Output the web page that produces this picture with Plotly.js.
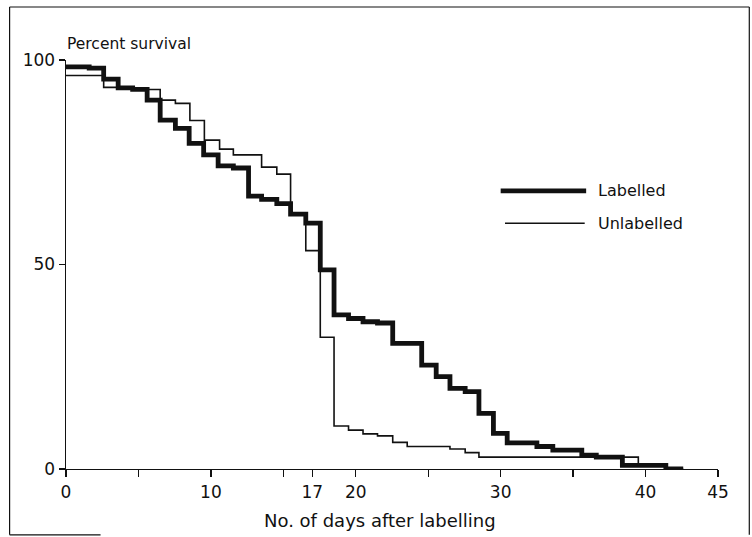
<!DOCTYPE html>
<html>
<head>
<meta charset="utf-8">
<script src="https://cdn.plot.ly/plotly-3.0.1.min.js"></script>
<style>
  html, body { margin: 0; padding: 0; background: #fff; }
  #chart { width: 752px; height: 537px; }
</style>
</head>
<body>
<div id="chart"></div>
<script>
// ---- data ----
const seriesNames = ['Labelled', 'Unlabelled'];

const daysLabelled = [0, 1.6, 2.6, 3.6, 4.6, 5.6, 6.5, 7.55, 8.5, 9.5, 10.5, 11.55, 12.6, 13.5, 14.55, 15.5, 16.55, 17.55, 18.5, 19.5, 20.5, 21.5, 22.55, 24.55, 25.55, 26.5, 27.55, 28.5, 29.5, 30.45, 32.5, 33.6, 35.6, 36.6, 38.4, 41.4, 42.6];
const survLabelled = [98.3, 98.0, 95.3, 93.2, 92.8, 90.2, 85.3, 83.3, 79.6, 76.8, 74.1, 73.6, 66.7, 65.9, 64.9, 62.3, 60.1, 48.7, 37.7, 36.8, 36.0, 35.7, 30.7, 25.4, 22.6, 19.7, 18.9, 13.6, 8.7, 6.4, 5.5, 4.6, 3.4, 2.9, 0.9, 0, 0];

const daysUnlabelled = [0, 2.6, 4.6, 6.5, 7.55, 8.55, 9.55, 10.6, 11.55, 13.5, 14.55, 15.5, 16.55, 17.55, 18.5, 19.5, 20.5, 21.5, 22.55, 23.55, 26.5, 27.55, 28.5, 39.5, 41.4, 42.6];
const survUnlabelled = [96.2, 93.3, 92.8, 90.2, 89.4, 85.2, 80.4, 78.2, 76.8, 73.8, 72.1, 62.3, 53.4, 32.2, 10.5, 9.5, 8.6, 8.1, 6.5, 5.5, 4.9, 4.0, 2.9, 0.9, 0, 0];

const xTickVals = [0, 5, 10, 15, 17, 20, 25, 30, 35, 40, 45];
const xTickText = ['0', '', '10', '', '17', '20', '', '30', '', '40', '45'];
const yTickVals = [0, 50, 100];
const yTickText = ['0', '50', '100'];

const xTitle = 'No. of days after labelling';
const yTitle = 'Percent survival';

// legend sample positions (data units)
const legendX0 = [30.0, 30.3];
const legendX1 = [35.9, 35.8];
const legendY = [68.0, 60.1];
const legendTextX = 36.6;

// ---- styling ----
const INK = '#111111';
const FONT = 'DejaVu Sans';
const widths = [4.8, 1.6];

const traces = [
  {x: daysLabelled, y: survLabelled, name: seriesNames[0]},
  {x: daysUnlabelled, y: survUnlabelled, name: seriesNames[1]}
].map((t, i) => Object.assign(t, {
  type: 'scatter', mode: 'lines',
  line: {shape: 'hv', color: INK, width: widths[i]},
  cliponaxis: false, showlegend: false, hoverinfo: 'skip'
}));

const shapes = [];
const annotations = [];
seriesNames.forEach((n, i) => {
  shapes.push({type: 'line', xref: 'x', yref: 'y', x0: legendX0[i], x1: legendX1[i], y0: legendY[i], y1: legendY[i],
    line: {color: INK, width: widths[i]}});
  annotations.push({xref: 'x', yref: 'y', x: legendTextX, y: legendY[i], text: n, showarrow: false,
    xanchor: 'left', yanchor: 'middle', font: {family: FONT, size: 16, color: INK}});
});

// y-axis title drawn horizontally above the axis
annotations.push({xref: 'paper', yref: 'paper', x: -0.002, y: 1.039, text: yTitle, showarrow: false,
  xanchor: 'left', yanchor: 'middle', font: {family: FONT, size: 15.5, color: INK}});

// x-axis title (slightly left of centre, as in the reference)
annotations.push({xref: 'paper', yref: 'paper', x: 0.4816, y: -0.1247, text: xTitle, showarrow: false,
  xanchor: 'center', yanchor: 'middle', font: {family: FONT, size: 18, color: INK}});

// outer frame
const fr = {l: -0.0865, r: 1.048, t: 1.1296, b: -0.161, bEnd: 0.053};
const frameLine = {color: INK, width: 1.2};
shapes.push({type: 'line', xref: 'paper', yref: 'paper', x0: fr.l, x1: fr.r, y0: fr.t, y1: fr.t, line: frameLine});
shapes.push({type: 'line', xref: 'paper', yref: 'paper', x0: fr.l, x1: fr.l, y0: fr.t, y1: fr.b, line: frameLine});
shapes.push({type: 'line', xref: 'paper', yref: 'paper', x0: fr.r, x1: fr.r, y0: fr.t, y1: fr.b, line: frameLine});
shapes.push({type: 'line', xref: 'paper', yref: 'paper', x0: fr.l, x1: fr.bEnd, y0: fr.b, y1: fr.b, line: frameLine});

const axisCommon = {
  showline: true, linecolor: INK, linewidth: 1.4,
  ticks: 'outside', tickcolor: INK, tickwidth: 1.4,
  showgrid: false, zeroline: false, fixedrange: true,
  tickfont: {family: FONT, size: 17, color: INK},
  tickmode: 'array'
};

const layout = {
  width: 752, height: 537,
  margin: {l: 65.5, r: 33.5, t: 60, b: 68, pad: 0},
  paper_bgcolor: '#ffffff', plot_bgcolor: '#ffffff',
  showlegend: false,
  xaxis: Object.assign({}, axisCommon, {
    range: [0, 45], tickvals: xTickVals, ticktext: xTickText, ticklen: 7
  }),
  yaxis: Object.assign({}, axisCommon, {
    range: [0, 100], tickvals: yTickVals, ticktext: yTickText, ticklen: 6
  }),
  shapes: shapes,
  annotations: annotations
};

Plotly.newPlot('chart', traces, layout, {staticPlot: true, displayModeBar: false});
</script>
</body>
</html>
